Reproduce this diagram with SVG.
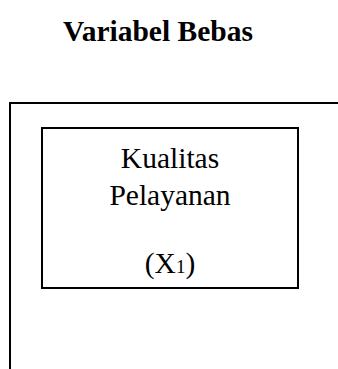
<svg xmlns="http://www.w3.org/2000/svg" width="338" height="369" viewBox="0 0 338 369">
  <style>
    .frame { fill: none; stroke: #000; stroke-width: 2; }
    .label { font-family: "Liberation Serif", "Times New Roman", serif; font-size: 29.5px; fill: #000; text-anchor: middle; }
    .title { font-weight: bold; }
  </style>
  <rect width="338" height="369" fill="#fff"/>
  <g id="title">
    <text class="label title" x="158" y="41">Variabel Bebas</text>
  </g>
  <g id="connectors">
    <path class="frame" d="M338 103 H10 V369"/>
  </g>
  <g id="node-x1">
    <rect class="frame" x="42" y="128" width="256" height="160"/>
    <text class="label" x="170" y="168">Kualitas</text>
    <text class="label" x="170" y="205">Pelayanan</text>
    <text class="label" x="170" y="273">(X<tspan font-size="19">1</tspan>)</text>
  </g>
</svg>
